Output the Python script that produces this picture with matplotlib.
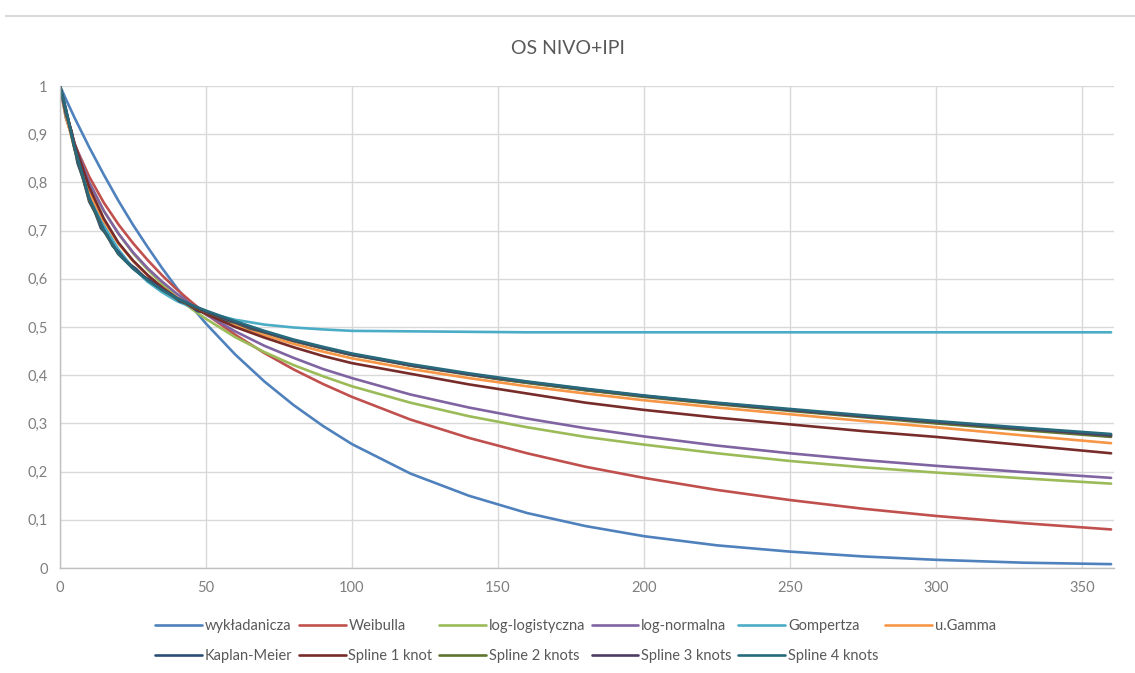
import matplotlib
matplotlib.use("Agg")
import matplotlib.pyplot as plt
from matplotlib.lines import Line2D

plt.rcParams["font.family"] = ["Lato", "DejaVu Sans"]

# survival time grid shared by the fitted models
t_grid = [0, 2, 5, 10, 15, 20, 25, 30, 35, 40, 45, 50, 60, 70, 80, 90, 100,
          120, 140, 160, 180, 200, 225, 250, 275, 300, 330, 360]

s_exp = [1.000, 0.973, 0.934, 0.873, 0.816, 0.762, 0.712, 0.666, 0.622, 0.581,
         0.543, 0.507, 0.443, 0.387, 0.338, 0.295, 0.257, 0.196, 0.150, 0.114,
         0.087, 0.066, 0.047, 0.034, 0.024, 0.017, 0.011, 0.008]
s_weibull = [1.000, 0.934, 0.879, 0.812, 0.758, 0.713, 0.674, 0.639, 0.607, 0.578,
             0.552, 0.527, 0.484, 0.446, 0.412, 0.382, 0.355, 0.308, 0.270, 0.238,
             0.210, 0.187, 0.162, 0.141, 0.123, 0.108, 0.093, 0.080]
s_loglog = [1.000, 0.937, 0.876, 0.800, 0.741, 0.694, 0.653, 0.619, 0.589, 0.562,
            0.538, 0.517, 0.479, 0.448, 0.421, 0.398, 0.377, 0.343, 0.315, 0.292,
            0.272, 0.256, 0.238, 0.222, 0.209, 0.198, 0.186, 0.175]
s_lognorm = [1.000, 0.947, 0.880, 0.800, 0.741, 0.694, 0.655, 0.622, 0.594, 0.569,
             0.546, 0.526, 0.491, 0.461, 0.436, 0.413, 0.394, 0.360, 0.333, 0.310,
             0.290, 0.273, 0.254, 0.238, 0.224, 0.212, 0.199, 0.187]
s_gompertz = [1.000, 0.943, 0.870, 0.778, 0.711, 0.661, 0.623, 0.594, 0.572, 0.554,
              0.541, 0.530, 0.515, 0.505, 0.499, 0.495, 0.492, 0.491, 0.490, 0.489,
              0.489, 0.489, 0.489, 0.489, 0.489, 0.489, 0.489, 0.489]
s_gamma = [1.000, 0.940, 0.870, 0.780, 0.720, 0.673, 0.637, 0.607, 0.582, 0.561,
           0.543, 0.528, 0.503, 0.483, 0.465, 0.449, 0.435, 0.413, 0.394, 0.377,
           0.362, 0.348, 0.333, 0.319, 0.305, 0.292, 0.275, 0.259]
s_spline1 = [1.000, 0.950, 0.880, 0.790, 0.725, 0.675, 0.638, 0.608, 0.582, 0.560,
             0.542, 0.527, 0.500, 0.478, 0.458, 0.440, 0.425, 0.403, 0.381, 0.362,
             0.343, 0.328, 0.312, 0.298, 0.284, 0.272, 0.255, 0.238]
s_spline2 = [1.000, 0.950, 0.868, 0.763, 0.699, 0.651, 0.622, 0.598, 0.577, 0.559,
             0.544, 0.531, 0.509, 0.489, 0.471, 0.456, 0.442, 0.420, 0.401, 0.384,
             0.369, 0.355, 0.340, 0.326, 0.313, 0.300, 0.286, 0.272]
s_spline3 = [1.000, 0.952, 0.871, 0.766, 0.701, 0.652, 0.622, 0.599, 0.578, 0.560,
             0.545, 0.532, 0.510, 0.490, 0.472, 0.457, 0.443, 0.421, 0.402, 0.386,
             0.371, 0.357, 0.342, 0.328, 0.315, 0.303, 0.289, 0.275]
s_spline4 = [1.000, 0.953, 0.873, 0.768, 0.702, 0.652, 0.621, 0.597, 0.577, 0.560,
             0.546, 0.534, 0.512, 0.492, 0.474, 0.459, 0.445, 0.423, 0.404, 0.387,
             0.372, 0.358, 0.343, 0.330, 0.317, 0.305, 0.291, 0.278]

# Kaplan-Meier estimate on its own time points
km_t = [0, 2, 4, 6, 8, 10, 12, 14, 16, 18, 20, 23, 26, 29, 32, 35, 38, 41, 44, 47,
        50, 55, 60, 65, 70, 80, 90, 100, 110, 120, 135, 150, 165, 180, 200, 220,
        240, 260, 280, 300, 330, 360]
km_s = [1.000, 0.942, 0.905, 0.840, 0.806, 0.760, 0.738, 0.705, 0.692, 0.668,
        0.656, 0.634, 0.621, 0.603, 0.594, 0.577, 0.568, 0.553, 0.548, 0.533,
        0.530, 0.516, 0.509, 0.497, 0.489, 0.471, 0.456, 0.442, 0.433, 0.420,
        0.407, 0.392, 0.381, 0.369, 0.357, 0.344, 0.334, 0.322, 0.313, 0.301,
        0.290, 0.276]

labels = ["wykładanicza", "Weibulla", "log-logistyczna", "log-normalna", "Gompertza",
          "u.Gamma", "Kaplan-Meier", "Spline 1 knot", "Spline 2 knots",
          "Spline 3 knots", "Spline 4 knots"]
colors = ["#4F81BD", "#C0504D", "#9BBB59", "#8064A2", "#4BACC6", "#F79646",
          "#2C4D75", "#772C2A", "#5F7530", "#4D3B62", "#276A7C"]

x_ticks = [0, 50, 100, 150, 200, 250, 300, 350]
y_ticks = [0, 0.1, 0.2, 0.3, 0.4, 0.5, 0.6, 0.7, 0.8, 0.9, 1.0]
y_tick_labels = ["0", "0,1", "0,2", "0,3", "0,4", "0,5", "0,6", "0,7", "0,8", "0,9", "1"]

series = [
    (t_grid, s_exp), (t_grid, s_weibull), (t_grid, s_loglog), (t_grid, s_lognorm),
    (t_grid, s_gompertz), (t_grid, s_gamma), (km_t, km_s), (t_grid, s_spline1),
    (t_grid, s_spline2), (t_grid, s_spline3), (t_grid, s_spline4),
]

fig = plt.figure(figsize=(11.35, 6.73), dpi=100)
ax = fig.add_axes([60 / 1135, 105 / 673, 1054 / 1135, 482 / 673])

handles = []
for (x, y), lab, col in zip(series, labels, colors):
    (h,) = ax.plot(x, y, color=col, lw=1.9, label=lab, solid_capstyle="round")
    handles.append(h)

ax.set_xlim(0, 361)
ax.set_ylim(0, 1.0)
ax.set_xticks(x_ticks)
ax.set_yticks(y_ticks)
ax.set_yticklabels(y_tick_labels)
ax.grid(True, color="#D9D9D9", lw=1.0)
ax.set_axisbelow(True)
for side in ["top", "right"]:
    ax.spines[side].set_visible(False)
for side in ["left", "bottom"]:
    ax.spines[side].set_color("#BFBFBF")
    ax.spines[side].set_linewidth(1.0)
ax.tick_params(length=0, labelsize=10.5, labelcolor="#7F7F7F", pad=9)

fig.text(0.5, 1 - 48 / 673, "OS NIVO+IPI", ha="center", va="center",
         fontsize=14, color="#595959")

# light frame line along the top of the chart area
fig.add_artist(Line2D([6 / 1135, 1.0], [1 - 16 / 673, 1 - 16 / 673],
                      color="#D9D9D9", lw=1.5))

# row-major legend: six columns, two rows
order = [0, 6, 1, 7, 2, 8, 3, 9, 4, 10, 5]
fig.legend([handles[i] for i in order], [labels[i] for i in order],
           loc="center", bbox_to_anchor=(0.507, 1 - 641 / 673), ncol=6,
           frameon=False, fontsize=10.5, handlelength=3.2, handletextpad=0.2,
           columnspacing=0.45, labelspacing=1.1, labelcolor="#595959")

fig.savefig("out.png", dpi=100, facecolor="white")
